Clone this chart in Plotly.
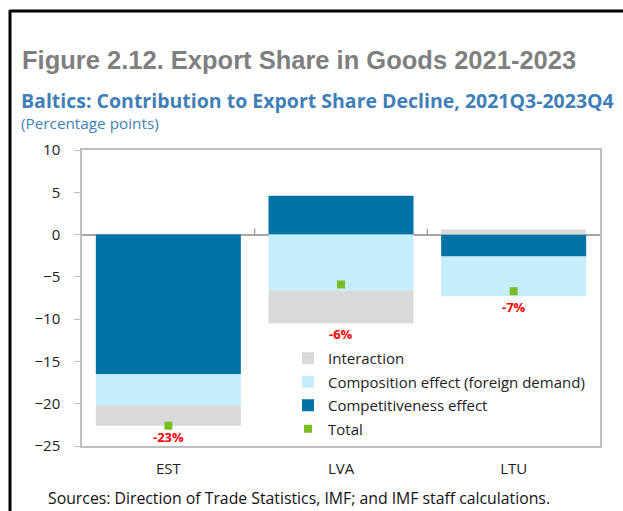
import plotly.graph_objects as go

countries = ["EST", "LVA", "LTU"]
competitiveness = [-16.5, 4.6, -2.6]
composition = [-3.7, -6.6, -4.7]
interaction = [-2.4, -3.9, 0.6]
total = [-22.6, -5.9, -6.7]
y_ticks = [10, 5, 0, -5, -10, -15, -20, -25]

C_COMP = "#0073a6"
C_COMPO = "#c5eefd"
C_INT = "#d9d9d9"
C_TOT = "#78be20"
TICK_FONT = dict(family="Open Sans", size=15, color="#222222")

OFF = 0  # page body margin (removed via post_script)
W, H = 623 - OFF, 511 - OFF
# plot area in screen pixels: left 82, right 600, top 150, bottom 446
L, T = 82 - OFF, 150 - OFF
R = W - (600 - OFF)
B = H - (446 - OFF)
PW, PH = W - L - R, H - T - B

def px(x):
    return (x - OFF - L) / PW

def py(y):
    return (H - B - (y - OFF)) / PH

fig = go.Figure()
fig.add_bar(x=countries, y=competitiveness, name="Competitiveness effect",
            marker=dict(color=C_COMP, line=dict(width=0)), legendrank=3, legendgroup="c")
fig.add_bar(x=countries, y=composition, name="Composition effect (foreign demand)",
            marker=dict(color=C_COMPO, line=dict(width=0)), legendrank=2, legendgroup="b")
fig.add_bar(x=countries, y=interaction, name="Interaction",
            marker=dict(color=C_INT, line=dict(width=0)), legendrank=1, legendgroup="a")
fig.add_scatter(x=countries, y=total, mode="markers", name="Total",
                marker=dict(symbol="square", size=8, color=C_TOT), legendrank=4, legendgroup="d")

# total labels under each bar
for c, a, b, d, t in zip(countries, competitiveness, composition, interaction, total):
    bottom = sum(v for v in (a, b, d) if v < 0)
    fig.add_annotation(x=c, y=bottom, text=f"<b>{round(t):.0f}%</b>", showarrow=False,
                       yanchor="top", yshift=0,
                       font=dict(family="Open Sans", size=13, color="#ff0000"))

# category boundary ticks on the zero line
for i in range(len(countries) - 1):
    fig.add_shape(type="line", xref="x", yref="y", x0=i + 0.5, x1=i + 0.5,
                  ysizemode="pixel", yanchor=0, y0=0, y1=6,
                  line=dict(color="#a6a6a6", width=1.5))

# outer frame (top and left black lines)
fig.add_shape(type="line", xref="paper", yref="paper",
              x0=px(10), x1=px(623), y0=py(11), y1=py(11),
              line=dict(color="black", width=3))
fig.add_shape(type="line", xref="paper", yref="paper",
              x0=px(10), x1=px(10), y0=py(10), y1=py(511),
              line=dict(color="black", width=3))

fig.add_annotation(xref="paper", yref="paper", x=px(20), y=py(60), xanchor="left", yanchor="middle",
                   text="<b>Figure 2.12. Export Share in Goods 2021-2023</b>", showarrow=False,
                   font=dict(family="Liberation Sans", size=25.5, color="#7f7f7f"))
fig.add_annotation(xref="paper", yref="paper", x=px(19), y=py(100), xanchor="left", yanchor="middle",
                   text="<b>Baltics: Contribution to Export Share Decline, 2021Q3-2023Q4</b>", showarrow=False,
                   font=dict(family="Open Sans", size=19.5, color="#3f7fb8"))
fig.add_annotation(xref="paper", yref="paper", x=px(19), y=py(123), xanchor="left", yanchor="middle",
                   text="(Percentage points)", showarrow=False,
                   font=dict(family="Open Sans", size=15.3, color="#3f7fb8"))
fig.add_annotation(xref="paper", yref="paper", x=px(46), y=py(498), xanchor="left", yanchor="middle",
                   text="Sources: Direction of Trade Statistics, IMF; and IMF staff calculations.",
                   showarrow=False, font=dict(family="Open Sans", size=15.8, color="#111111"))

fig.update_layout(
    width=W, height=H,
    margin=dict(l=L, r=R, t=T, b=B, pad=0),
    paper_bgcolor="white", plot_bgcolor="white",
    barmode="relative", bargap=0.16,
    showlegend=True,
    legend=dict(x=px(288), y=py(342), xanchor="left", yanchor="top",
                bgcolor="rgba(0,0,0,0)", font=dict(family="Open Sans", size=15, color="#222222"),
                tracegroupgap=1, itemclick=False),
    xaxis=dict(showline=True, mirror=True, linecolor="#bfbfbf", linewidth=1.5,
               ticks="", tickfont=TICK_FONT, showgrid=False, ticklabelstandoff=8),
    yaxis=dict(range=[-25, 10], tickvals=y_ticks, showline=True, mirror=True,
               linecolor="#bfbfbf", linewidth=1.5, ticks="outside", ticklen=6,
               tickcolor="#bfbfbf", showgrid=False, zeroline=True,
               zerolinecolor="#a6a6a6", zerolinewidth=1.5, tickfont=TICK_FONT,
               ticklabelstandoff=11),
)

fig.write_html("out.html", config={"displayModeBar": False},
               post_script="document.body.style.margin='0';document.body.style.overflow='hidden';")
